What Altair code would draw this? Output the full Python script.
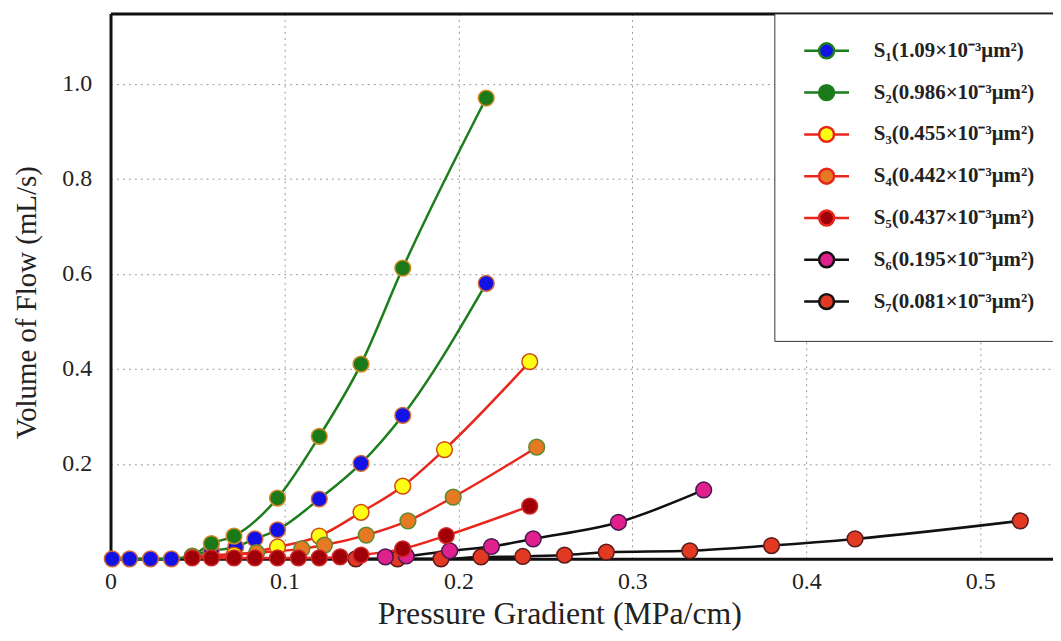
import altair as alt
import pandas as pd

series_names = [
    "S₁(1.09×10⁻³μm²)",
    "S₂(0.986×10⁻³μm²)",
    "S₃(0.455×10⁻³μm²)",
    "S₄(0.442×10⁻³μm²)",
    "S₅(0.437×10⁻³μm²)",
    "S₆(0.195×10⁻³μm²)",
    "S₇(0.081×10⁻³μm²)",
]

s1_x = [0.001, 0.011, 0.023, 0.035, 0.058, 0.072, 0.083, 0.096, 0.120, 0.144, 0.168, 0.216]
s1_y = [0.0, 0.0, 0.0, 0.0, 0.017, 0.025, 0.042, 0.061, 0.126, 0.201, 0.302, 0.580]

s2_x = [0.047, 0.058, 0.071, 0.096, 0.120, 0.144, 0.168, 0.216]
s2_y = [0.005, 0.032, 0.048, 0.128, 0.258, 0.410, 0.612, 0.970]

s3_x = [0.047, 0.071, 0.096, 0.120, 0.144, 0.168, 0.192, 0.241]
s3_y = [0.004, 0.008, 0.025, 0.048, 0.098, 0.153, 0.230, 0.415]

s4_x = [0.047, 0.084, 0.110, 0.123, 0.147, 0.171, 0.197, 0.245]
s4_y = [0.006, 0.013, 0.021, 0.029, 0.050, 0.080, 0.130, 0.235]

s5_x = [0.047, 0.058, 0.071, 0.083, 0.096, 0.108, 0.120, 0.132, 0.144, 0.168, 0.193, 0.241]
s5_y = [0.002, 0.002, 0.002, 0.002, 0.002, 0.002, 0.002, 0.004, 0.008, 0.021, 0.049, 0.111]

s6_x = [0.158, 0.170, 0.195, 0.219, 0.243, 0.292, 0.341]
s6_y = [0.004, 0.006, 0.017, 0.026, 0.042, 0.077, 0.145]

s7_x = [0.141, 0.165, 0.190, 0.213, 0.237, 0.261, 0.285, 0.333, 0.380, 0.428, 0.523]
s7_y = [0.0, 0.0, 0.0, 0.004, 0.005, 0.008, 0.014, 0.017, 0.028, 0.042, 0.080]

x_ticks = [0, 0.1, 0.2, 0.3, 0.4, 0.5]
y_ticks = [0.2, 0.4, 0.6, 0.8, 1.0]

line_colors = ["#1b7d1b", "#1b7d1b", "#e8261c", "#e8261c", "#e8261c", "#111111", "#111111"]
fill_colors = ["#1212e6", "#1a7a1a", "#ffff14", "#e57a22", "#a00008", "#e0208c", "#e23a22"]
outline_colors = ["#d0683a", "#d08a20", "#d04a10", "#5e8a30", "#d02828", "#4a1850", "#5a1a1a"]

all_x = [s1_x, s2_x, s3_x, s4_x, s5_x, s6_x, s7_x]
all_y = [s1_y, s2_y, s3_y, s4_y, s5_y, s6_y, s7_y]

draw_order = [6, 5, 0, 1, 2, 3, 4]
rows = []
k = 0
for i in draw_order:
    for xv, yv in zip(all_x[i], all_y[i]):
        rows.append({"series": series_names[i], "x": xv, "y": yv,
                     "outline": outline_colors[i], "ord": k})
        k += 1
df = pd.DataFrame(rows)

SERIF = "Liberation Serif"
X_MAX = 0.5418
Y_MAX = 1.148

xscale = alt.Scale(domain=[0, X_MAX], nice=False, zero=False)
yscale = alt.Scale(domain=[0, Y_MAX], nice=False, zero=False)

x_axis = alt.Axis(
    values=x_ticks,
    labelExpr="datum.value == 0 ? '0' : format(datum.value, '.1f')",
    grid=True, gridDash=[2, 4], gridColor="#9a9a9a", gridWidth=1,
    domainWidth=3, domainColor="#111111", ticks=False,
    labelFont=SERIF, labelFontSize=24, labelColor="#222222", labelPadding=11,
    labelFlush=False,
    title="Pressure Gradient (MPa/cm)", titleFont=SERIF, titleFontSize=32,
    titleFontWeight="normal", titleColor="#222222",
    titleX=451, titleY=65, titleAlign="center", titleBaseline="alphabetic",
)
y_axis = alt.Axis(
    values=y_ticks, format=".1f",
    grid=True, gridDash=[2, 4], gridColor="#9a9a9a", gridWidth=1,
    domainWidth=3, domainColor="#111111", ticks=False,
    labelFont=SERIF, labelFontSize=24, labelColor="#222222", labelPadding=19,
    title="Volume of Flow (mL/s)", titleFont=SERIF, titleFontSize=29,
    titleFontWeight="normal", titleColor="#222222",
    titleX=-84, titleY=290, titleAngle=-90, titleBaseline="middle", titleAlign="center",
)

symbol_path = "M-1,0L1,0M3,0L5,0M1,0A1,1,0,1,1,3,0A1,1,0,1,1,1,0Z"
legend = alt.Legend(
    title=None, orient="none", legendX=667, legendY=0,
    symbolType=symbol_path, symbolSize=225, symbolStrokeWidth=2.5,
    labelFont=SERIF, labelFontSize=21, labelFontWeight="bold", labelColor="#222222",
    labelOffset=52, labelLimit=400, padding=27, rowPadding=17,
    fillColor="white", strokeColor="#333333",
)

base = alt.Chart(df)

lines = base.mark_line(strokeWidth=2.5, interpolate="monotone").encode(
    x=alt.X("x:Q", scale=xscale, axis=x_axis),
    y=alt.Y("y:Q", scale=yscale, axis=y_axis),
    stroke=alt.Stroke("series:N", scale=alt.Scale(domain=series_names, range=line_colors), legend=legend),
)

points = base.mark_circle(size=250, opacity=1, strokeWidth=1.5).encode(
    x=alt.X("x:Q", scale=xscale, axis=None),
    y=alt.Y("y:Q", scale=yscale, axis=y_axis),
    fill=alt.Fill("series:N", scale=alt.Scale(domain=series_names, range=fill_colors), legend=legend),
    stroke=alt.Stroke("outline:N", scale=None),
    order=alt.Order("ord:Q"),
)

frame = base.mark_point(opacity=0).encode(
    x=alt.X("x:Q", scale=xscale, axis=alt.Axis(orient="top", labels=False, ticks=False, grid=False,
                                               domainWidth=3, domainColor="#111111", title=None)),
    y=alt.Y("y:Q", scale=yscale, axis=y_axis),
)

chart = alt.layer(lines, points, frame).resolve_axis(x="independent").properties(
    width=947, height=548,
    padding={"left": 103, "top": 4, "right": 0, "bottom": 73},
    autosize=alt.AutoSizeParams(type="none"),
    background="white",
).configure_view(stroke=None)

chart.save("out.html", embed_options={"renderer": "svg", "actions": False})
